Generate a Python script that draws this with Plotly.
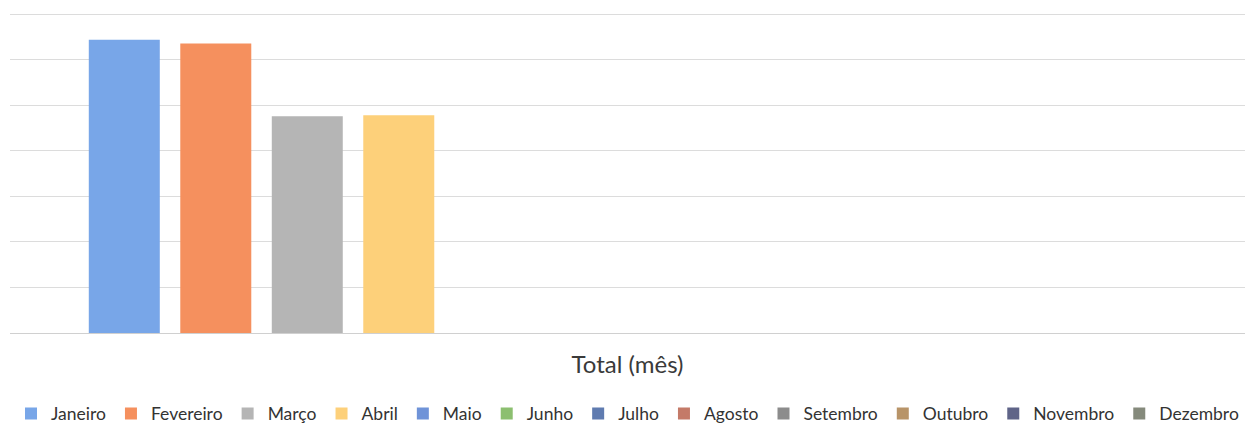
import plotly.graph_objects as go

category = ["Total (mês)"]
months = ["Janeiro", "Fevereiro", "Março", "Abril", "Maio", "Junho", "Julho",
          "Agosto", "Setembro", "Outubro", "Novembro", "Dezembro"]
values = [64.4, 63.6, 47.6, 47.8, None, None, None, None, None, None, None, None]
colors = ["#78a6e8", "#f5905e", "#b5b5b5", "#fdd07a", "#6f93d8", "#8cbf70",
          "#5f7bb0", "#c47a68", "#8c8c8c", "#b89468", "#5f6488", "#858a7c"]

fig = go.Figure()
for m, v, c in zip(months, values, colors):
    fig.add_trace(go.Bar(name=m, x=category, y=[v], marker=dict(color=c, line=dict(width=0))))

fig.update_layout(
    width=1248, height=420,
    margin=dict(l=2, r=11, t=4, b=95, autoexpand=False),
    paper_bgcolor="white", plot_bgcolor="white",
    barmode="group", bargap=0.111, bargroupgap=0.224,
    font=dict(family="Lato, 'Open Sans', sans-serif", size=16, color="#333333"),
    showlegend=True,
    legend=dict(orientation="h", x=0.5, xanchor="center", y=-0.307, yanchor="bottom",
                font=dict(size=17.5, color="#333333"), itemclick=False,
                tracegroupgap=0),
    xaxis=dict(showgrid=False, showline=False, ticks="", ticklabelstandoff=15,
               automargin=False, tickfont=dict(size=24, color="#3a3a3a")),
    yaxis=dict(range=[0, 70.5], tickvals=[0, 10, 20, 30, 40, 50, 60, 70],
               showticklabels=False, showgrid=True, automargin=False,
               gridcolor="#dcdcdc", gridwidth=1, zeroline=True, zerolinecolor="#d0d0d0",
               zerolinewidth=1, showline=False, ticks=""),
)

fig.write_html("out.html")
